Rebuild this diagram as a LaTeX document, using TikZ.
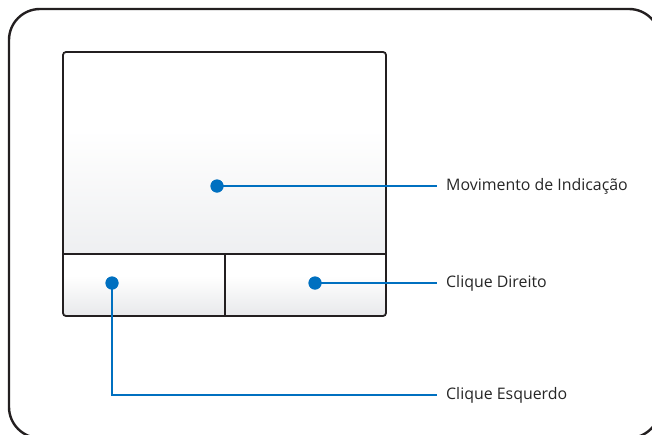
\documentclass[tikz,border=0pt]{standalone}
\usepackage{fontspec}
\setmainfont{Open Sans}
\usetikzlibrary{positioning}

\definecolor{leadblue}{RGB}{0,112,192}
\definecolor{framegray}{RGB}{35,31,32}
\definecolor{padgray}{RGB}{238,239,241}
\definecolor{btngray}{RGB}{232,233,235}

\tikzset{
    dot/.style={circle, fill=leadblue, minimum size=13pt, inner sep=0pt},
    lead/.style={draw=leadblue, line width=2.2pt},
    label/.style={anchor=west, inner xsep=9pt, inner ysep=0pt, font=\fontsize{15.9}{18}\selectfont, text=black!85}
}

\begin{document}
\begin{tikzpicture}[x=1pt, y=-1pt]

\useasboundingbox (0,0) rectangle (652,434);

% Frame
\begin{scope}
\clip (0,0) rectangle (652,434);
\draw[framegray, line width=2.4pt, rounded corners=31pt] (9,9) rectangle (660,438);
\end{scope}

% Pad surface
\fill[white] (63,52) rectangle (386,254);
\shade[top color=white, bottom color=padgray] (64,130) rectangle (385,254);

% Buttons
\shade[top color=white, bottom color=btngray] (64,276) rectangle (385,315);

% Pad outline
\draw[framegray, line width=1.8pt, rounded corners=3pt] (63,52) rectangle (386,316);
\draw[framegray, line width=1.8pt] (63,254) -- (386,254);
\draw[framegray, line width=1.8pt] (225,254) -- (225,316);

% Dots
\node[dot] (pdot) at (217,186) {};
\node[dot] (rdot) at (315,283) {};
\node[dot] (ldot) at (112,283) {};

% Labels
\node[label] (ptext) at (437,186) {Movimento de Indicação};
\node[label] (rtext) at (437,283) {Clique Direito};
\node[label] (ltext) at (437,395) {Clique Esquerdo};

% Leads
\draw[lead] (pdot.center) -- (ptext.west);
\draw[lead] (rdot.center) -- (rtext.west);
\draw[lead] (ldot.center) |- (ltext.west);

% Dots on top
\node[dot] at (pdot) {};
\node[dot] at (rdot) {};
\node[dot] at (ldot) {};

\end{tikzpicture}
\end{document}
